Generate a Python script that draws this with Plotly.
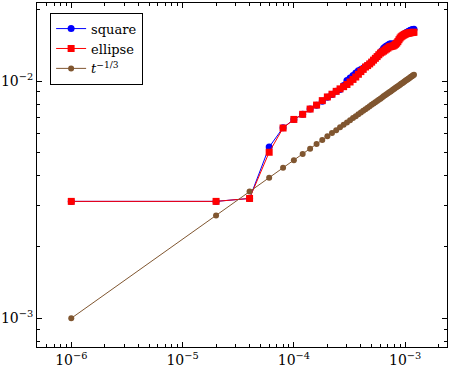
import plotly.graph_objects as go

# time steps
t = [1e-6, 2e-5, 4e-5, 6e-5, 8e-5, 1e-4, 1.2e-4, 1.4e-4, 1.6e-4, 1.8e-4, 2e-4,
     2.2e-4, 2.4e-4, 2.6e-4, 2.8e-4, 3e-4, 3.2e-4, 3.4e-4, 3.6e-4, 3.8e-4, 4e-4,
     4.2e-4, 4.4e-4, 4.6e-4, 4.8e-4, 5e-4, 5.2e-4, 5.4e-4, 5.6e-4, 5.8e-4, 6e-4,
     6.2e-4, 6.4e-4, 6.6e-4, 6.8e-4, 7e-4, 7.2e-4, 7.4e-4, 7.6e-4, 7.8e-4, 8e-4,
     8.2e-4, 8.4e-4, 8.6e-4, 8.8e-4, 9e-4, 9.2e-4, 9.4e-4, 9.6e-4, 9.8e-4, 1e-3,
     1.02e-3, 1.04e-3, 1.06e-3, 1.08e-3, 1.1e-3, 1.12e-3, 1.14e-3, 1.16e-3, 1.18e-3, 1.2e-3]

ellipse = [0.00311, 0.00311, 0.00320, 0.00501, 0.00634, 0.00689, 0.00724, 0.00762, 0.00792, 0.00827, 0.00857,
           0.00880, 0.00905, 0.00927, 0.00947, 0.00967, 0.00991, 0.01016, 0.01040, 0.01068, 0.01096,
           0.01120, 0.01146, 0.01162, 0.01181, 0.01202, 0.01225, 0.01247, 0.01268, 0.01291, 0.01312,
           0.01324, 0.01337, 0.01351, 0.01365, 0.01377, 0.01393, 0.01397, 0.01402, 0.01406, 0.01416,
           0.01429, 0.01445, 0.01466, 0.01493, 0.01518, 0.01536, 0.01548, 0.01559, 0.01567, 0.01575,
           0.01583, 0.01588, 0.01591, 0.01594, 0.01597, 0.01600, 0.01601, 0.01603, 0.01604, 0.01606]

square = [0.00311, 0.00311, 0.00320, 0.00527, 0.00636, 0.00689, 0.00724, 0.00762, 0.00790, 0.00822, 0.00855,
          0.00878, 0.00905, 0.00922, 0.00957, 0.01005, 0.01030, 0.01056, 0.01080, 0.01105, 0.01118,
          0.01132, 0.01150, 0.01165, 0.01183, 0.01204, 0.01226, 0.01249, 0.01270, 0.01295, 0.01320,
          0.01345, 0.01376, 0.01390, 0.01405, 0.01416, 0.01430, 0.01435, 0.01430, 0.01432, 0.01438,
          0.01440, 0.01450, 0.01470, 0.01495, 0.01520, 0.01540, 0.01555, 0.01568, 0.01578, 0.01588,
          0.01597, 0.01605, 0.01612, 0.01620, 0.01628, 0.01636, 0.01642, 0.01647, 0.01651, 0.01655]

ref = [0.00100, 0.00271, 0.00342, 0.00391, 0.00431, 0.00464, 0.00493, 0.00519, 0.00543, 0.00565, 0.00585,
       0.00604, 0.00621, 0.00638, 0.00654, 0.00669, 0.00684, 0.00698, 0.00711, 0.00724, 0.00737,
       0.00749, 0.00761, 0.00772, 0.00783, 0.00794, 0.00804, 0.00814, 0.00824, 0.00834, 0.00843,
       0.00853, 0.00862, 0.00871, 0.00879, 0.00888, 0.00896, 0.00904, 0.00913, 0.00921, 0.00928,
       0.00936, 0.00943, 0.00951, 0.00958, 0.00965, 0.00973, 0.00980, 0.00986, 0.00993, 0.01000,
       0.01007, 0.01013, 0.01020, 0.01026, 0.01032, 0.01039, 0.01045, 0.01051, 0.01057, 0.01063]

x_ticks = [1e-6, 1e-5, 1e-4, 1e-3]
x_labels = ["10<sup>−6</sup>", "10<sup>−5</sup>", "10<sup>−4</sup>", "10<sup>−3</sup>"]
y_ticks = [1e-3, 1e-2]
y_labels = ["10<sup>−3</sup>", "10<sup>−2</sup>"]

brown = "rgb(128,86,48)"

# minor ticks at 2..9 x 10^k
minor_vals = [m * 10.0 ** e for e in range(-7, 0) for m in range(2, 10)]

fig = go.Figure()
fig.add_trace(go.Scatter(x=t, y=square, name="square", mode="lines+markers",
                         line=dict(color="blue", width=1),
                         marker=dict(symbol="circle", size=7, color="blue")))
fig.add_trace(go.Scatter(x=t, y=ellipse, name="ellipse", mode="lines+markers",
                         line=dict(color="red", width=1),
                         marker=dict(symbol="square", size=7, color="red")))
fig.add_trace(go.Scatter(x=t, y=ref, name="<i>t</i><sup>−1/3</sup>", mode="lines+markers",
                         line=dict(color=brown, width=1),
                         marker=dict(symbol="circle", size=6, color=brown)))

axis = dict(type="log", showline=True, linecolor="black", linewidth=1, mirror="ticks",
            ticks="inside", ticklen=5, tickcolor="black", showgrid=False, zeroline=False,
            tickmode="array", automargin=False,
            minor=dict(tickmode="array", tickvals=minor_vals, ticks="inside", ticklen=3,
                       tickcolor="black", showgrid=False),
            tickfont=dict(family="DejaVu Serif", size=14, color="black"))

fig.update_xaxes(range=[-6.308, -2.624], tickvals=x_ticks, ticktext=x_labels, **axis)
fig.update_yaxes(range=[-3.121, -1.671], tickvals=y_ticks, ticktext=y_labels, **axis)

fig.update_layout(
    width=450, height=369,
    margin=dict(l=37, r=3, t=3, b=22),
    paper_bgcolor="white", plot_bgcolor="white",
    font=dict(family="DejaVu Serif", size=14, color="black"),
    legend=dict(x=0.032, y=0.972, xanchor="left", yanchor="top",
                bordercolor="black", borderwidth=1, bgcolor="white",
                itemwidth=30, tracegroupgap=0,
                font=dict(family="DejaVu Serif", size=13)),
)

fig.write_html("out.html", config={"displayModeBar": False},
               post_script="document.body.style.margin='0';")
